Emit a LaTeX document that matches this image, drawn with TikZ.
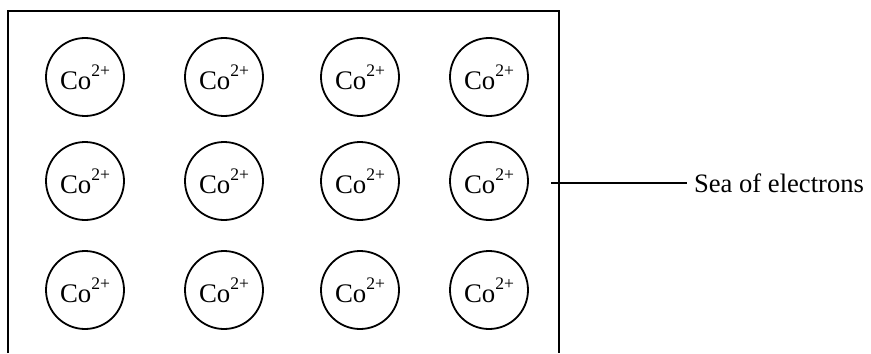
\documentclass[tikz,border=0pt]{standalone}
\usepackage{fontspec}
\setmainfont{Liberation Serif}
\usetikzlibrary{positioning}
\newcommand{\cobalt}{Co\raisebox{0.48em}{\fontsize{8.8}{9}\selectfont 2+}}
\tikzset{
  ion/.style={
    circle,
    draw=black, line width=0.9pt,
    minimum size=39pt,
    inner sep=0pt,
    font=\fontsize{13.4}{16}\selectfont},
  tag/.style={font=\fontsize{13.3}{16}\selectfont},
}

\begin{document}
\begin{tikzpicture}[
    x=0.5pt, y=-0.5pt,
    frame/.style={line width=1pt},
    pointer/.style={line width=0.9pt}
    ]
    \useasboundingbox (0,0) rectangle (871,353);

    %box
    \draw[frame] (8,353) -- (8,11) -- (559,11) -- (559,353);

    %ions
    \foreach \row/\y in {1/77, 2/181, 3/290}
      \foreach \col/\x in {1/85, 2/224, 3/360, 4/489}
        \node[ion] (ion\row\col) at (\x,\y) {\cobalt};

    %label
    \coordinate (seaend) at (551,183);
    \node[tag, right=68pt of seaend] (sea) {Sea of electrons};
    \draw[pointer] (seaend) -- (sea.west);
\end{tikzpicture}
\end{document}
